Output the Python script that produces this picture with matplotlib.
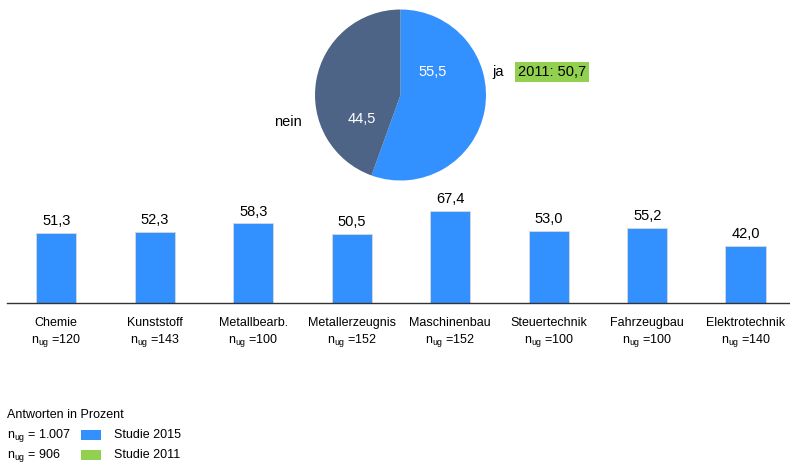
import matplotlib
matplotlib.use("Agg")
import matplotlib.pyplot as plt
from matplotlib.patches import Rectangle

plt.rcParams['font.family'] = ['Liberation Sans', 'DejaVu Sans']
plt.rcParams['mathtext.fontset'] = 'custom'
plt.rcParams['mathtext.rm'] = 'Liberation Sans'
plt.rcParams['mathtext.it'] = 'Liberation Sans'
plt.rcParams['mathtext.default'] = 'regular'

# ---- data ----
pie_labels = ["ja", "nein"]
pie_values = [55.5, 44.5]
pie_2011 = "2011: 50,7"

categories = ["Chemie", "Kunststoff", "Metallbearb.", "Metallerzeugnis",
              "Maschinenbau", "Steuertechnik", "Fahrzeugbau", "Elektrotechnik"]
values_2015 = [51.3, 52.3, 58.3, 50.5, 67.4, 53.0, 55.2, 42.0]
n_ug = [120, 143, 100, 152, 152, 100, 100, 140]

legend_title = "Antworten in Prozent"
legend_n = ["1.007", "906"]
legend_names = ["Studie 2015", "Studie 2011"]

BLUE = "#3390FF"
DARK = "#4D6486"
GREEN = "#92D050"

W, H = 790, 463
fig = plt.figure(figsize=(W / 100, H / 100), dpi=100)

def fx(px):
    return px / W

def fy(py):
    return 1 - py / H

# ---- pie ----
cx, cy, r = 400.5, 95, 85.5
axp = fig.add_axes([fx(cx - r), fy(cy + r), 2 * r / W, 2 * r / H])
axp.pie(pie_values, colors=[BLUE, DARK], startangle=90, counterclock=False,
        radius=1, wedgeprops=dict(linewidth=0))
axp.set_xlim(-1, 1)
axp.set_ylim(-1, 1)
axp.set_aspect('auto')
axp.axis('off')
fmt = lambda v: f"{v:.1f}".replace(".", ",")
fig.text(fx(433), fy(72), fmt(pie_values[0]), color="white", fontsize=10.5,
         ha="center", va="center")
fig.text(fx(362), fy(119), fmt(pie_values[1]), color="white", fontsize=10.5,
         ha="center", va="center")
fig.text(fx(492), fy(72), pie_labels[0], fontsize=10.5, ha="left", va="center")
fig.text(fx(302), fy(122), pie_labels[1], fontsize=10.5, ha="right", va="center")
fig.text(fx(518), fy(72), pie_2011, fontsize=10.5, ha="left", va="center",
         bbox=dict(boxstyle="square,pad=0.2", fc=GREEN, ec="none"))

# ---- bars ----
base_y, top_y = 303, 190
axb = fig.add_axes([fx(7), fy(base_y), (W - 7) / W, (base_y - top_y) / H])
x = list(range(len(categories)))
axb.bar(x, values_2015, width=0.41, color=BLUE, edgecolor="#d8d8d8", linewidth=0.6)
axb.set_xlim(-0.5, 7.45)
axb.set_ylim(0, (base_y - top_y) / 1.365)
for xi, v in zip(x, values_2015):
    axb.text(xi, v + 3.5, fmt(v), ha="center", va="bottom", fontsize=10.5)
for s in ["top", "right", "left"]:
    axb.spines[s].set_visible(False)
axb.spines["bottom"].set_color("#333333")
axb.spines["bottom"].set_linewidth(1)
axb.set_yticks([])
axb.set_xticks(x)
axb.set_xticklabels([f"{c}\nn$_{{ug}}$ ={n}" for c, n in zip(categories, n_ug)],
                    fontsize=9, linespacing=1.25)
axb.tick_params(axis="x", length=0, pad=10)

# ---- legend ----
fig.text(fx(7), fy(415), legend_title, fontsize=9, ha="left", va="center")
for i, (n, name, col) in enumerate(zip(legend_n, legend_names, [BLUE, GREEN])):
    yy = 435 + 20 * i
    fig.text(fx(7), fy(yy), f"n$_{{ug}}$ = {n}", fontsize=9, ha="left", va="center")
    fig.patches.append(Rectangle((fx(81), fy(yy + 5)), 20 / W, 10 / H,
                                 transform=fig.transFigure, fc=col, ec="none"))
    fig.text(fx(114), fy(yy), name, fontsize=9, ha="left", va="center")

fig.savefig("out.png", dpi=100)
